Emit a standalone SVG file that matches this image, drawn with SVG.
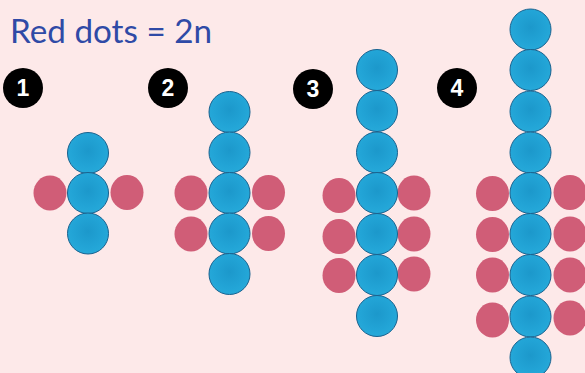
<svg xmlns="http://www.w3.org/2000/svg" width="585" height="373" viewBox="0 0 585 373">
<defs>
<radialGradient id="bg" cx="50%" cy="45%" r="55%">
<stop offset="0" stop-color="#1c98cb"/>
<stop offset="0.7" stop-color="#22a4d6"/>
<stop offset="1" stop-color="#26a9d9"/>
</radialGradient>
<style>
.b{fill:url(#bg);stroke:#19628f;stroke-width:1}
.r{fill:#d05d77}
.badge{fill:#000}
.num{fill:#fff;font-family:"Liberation Sans",Arial,sans-serif;font-weight:bold;font-size:23px;text-anchor:middle}
.title{fill:#2f4aa6;font-family:"Lato","Liberation Sans",sans-serif;font-size:33px}
</style>
</defs>
<rect width="585" height="373" fill="#fde9e9"/>
<text class="title" x="10" y="43" textLength="202" lengthAdjust="spacingAndGlyphs">Red dots = 2n</text>

<g id="badge1"><circle class="badge" cx="23" cy="88" r="20"/><text class="num" x="23" y="96">1</text></g>
<g id="badge2"><circle class="badge" cx="168" cy="88" r="20"/><text class="num" x="168" y="96">2</text></g>
<g id="badge3"><circle class="badge" cx="313" cy="89" r="20"/><text class="num" x="313" y="97">3</text></g>
<g id="badge4"><circle class="badge" cx="457" cy="88" r="20"/><text class="num" x="457" y="96">4</text></g>

<g id="figure1">
<ellipse class="r" cx="50" cy="193" rx="16.5" ry="17.5"/>
<ellipse class="r" cx="127" cy="192.5" rx="16.5" ry="17.5"/>
<circle class="b" cx="88" cy="153" r="20.5"/>
<circle class="b" cx="88" cy="193" r="20.5"/>
<circle class="b" cx="88" cy="233.5" r="20.5"/>
</g>

<g id="figure2">
<ellipse class="r" cx="191" cy="193" rx="16.5" ry="17.5"/>
<ellipse class="r" cx="268.5" cy="192.5" rx="16.5" ry="17.5"/>
<ellipse class="r" cx="191" cy="234" rx="16.5" ry="17.5"/>
<ellipse class="r" cx="268.5" cy="233.5" rx="16.5" ry="17.5"/>
<circle class="b" cx="229.5" cy="112" r="20.5"/>
<circle class="b" cx="229.5" cy="152.5" r="20.5"/>
<circle class="b" cx="229.5" cy="193" r="20.5"/>
<circle class="b" cx="229.5" cy="233.5" r="20.5"/>
<circle class="b" cx="229.5" cy="274" r="20.5"/>
</g>

<g id="figure3">
<ellipse class="r" cx="339" cy="195.5" rx="16.5" ry="17.5"/>
<ellipse class="r" cx="414" cy="193" rx="16.5" ry="17.5"/>
<ellipse class="r" cx="339" cy="236.5" rx="16.5" ry="17.5"/>
<ellipse class="r" cx="414" cy="234" rx="16.5" ry="17.5"/>
<ellipse class="r" cx="339" cy="275.5" rx="16.5" ry="17.5"/>
<ellipse class="r" cx="414" cy="274" rx="16.5" ry="17.5"/>
<circle class="b" cx="377" cy="70" r="20.5"/>
<circle class="b" cx="377" cy="111" r="20.5"/>
<circle class="b" cx="377" cy="152.5" r="20.5"/>
<circle class="b" cx="377" cy="193" r="20.5"/>
<circle class="b" cx="377" cy="234" r="20.5"/>
<circle class="b" cx="377" cy="275" r="20.5"/>
<circle class="b" cx="377" cy="316" r="20.5"/>
</g>

<g id="figure4">
<ellipse class="r" cx="492.5" cy="193.5" rx="16.5" ry="17.5"/>
<ellipse class="r" cx="570" cy="192.5" rx="16.5" ry="17.5"/>
<ellipse class="r" cx="492.5" cy="234.5" rx="16.5" ry="17.5"/>
<ellipse class="r" cx="570" cy="234" rx="16.5" ry="17.5"/>
<ellipse class="r" cx="492.5" cy="275" rx="16.5" ry="17.5"/>
<ellipse class="r" cx="570" cy="275" rx="16.5" ry="17.5"/>
<ellipse class="r" cx="492.5" cy="320" rx="16.5" ry="17.5"/>
<ellipse class="r" cx="570" cy="318" rx="16.5" ry="17.5"/>
<circle class="b" cx="530.5" cy="29.5" r="20.5"/>
<circle class="b" cx="530.5" cy="70" r="20.5"/>
<circle class="b" cx="530.5" cy="111.5" r="20.5"/>
<circle class="b" cx="530.5" cy="152.5" r="20.5"/>
<circle class="b" cx="530.5" cy="193" r="20.5"/>
<circle class="b" cx="530.5" cy="234" r="20.5"/>
<circle class="b" cx="530.5" cy="275" r="20.5"/>
<circle class="b" cx="530.5" cy="316.5" r="20.5"/>
<circle class="b" cx="530.5" cy="357.5" r="20.5"/>
</g>
</svg>
